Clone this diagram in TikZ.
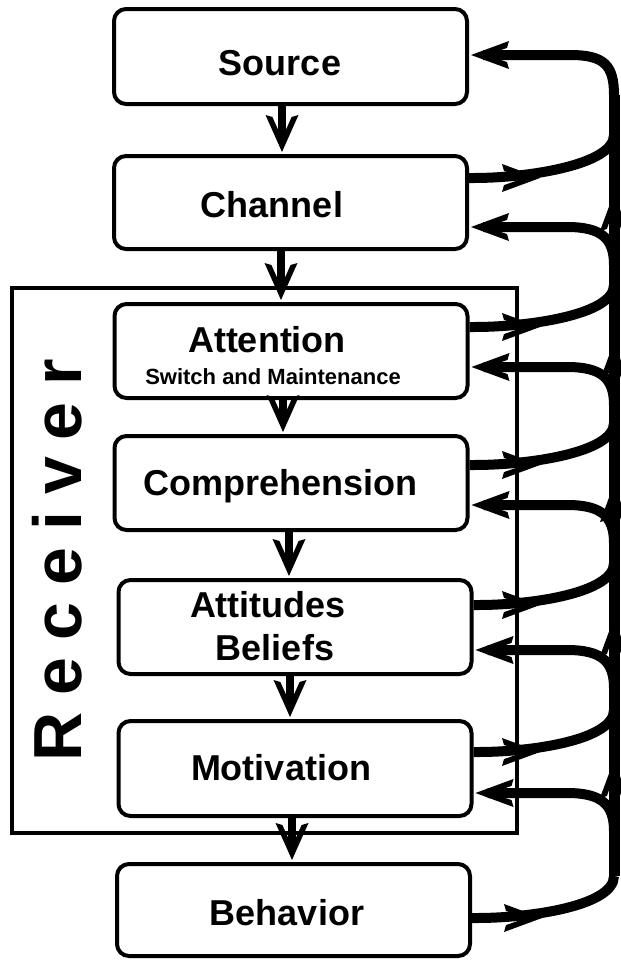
\documentclass[tikz,border=0pt]{standalone}
\usepackage{fontspec}
\setmainfont{Liberation Sans}
\begin{document}
\begin{tikzpicture}[x=1pt,y=-1pt,
  box/.style={draw, line width=4pt, fill=white, rounded corners=12pt, minimum width=353pt, minimum height=94pt, inner sep=0pt},
  lbl/.style={font=\fontsize{36}{40}\selectfont\bfseries, anchor=base, inner sep=0pt},
  sublbl/.style={font=\fontsize{22}{24}\selectfont\bfseries, anchor=base, inner sep=0pt},
  dstem/.style={line width=8.5pt, shorten >=11pt},
  fb/.style={line width=10pt},
  fbstem/.style={line width=10pt, shorten >=14pt},
  frame/.style={draw, line width=4pt, minimum width=505pt, minimum height=545pt, inner sep=0pt},
  dhead/.pic={\fill (0,0) -- (-37,-16.5) -- (-35,-9.6) -- (-13.5,0) -- (-35,9.6) -- (-37,16.5) -- cycle;},
  fhead/.pic={\fill (0,0) -- (-38,-14) -- (-36,-7.1) -- (-15.8,0) -- (-36,7.1) -- (-38,14) -- cycle;}]
\useasboundingbox (0,0) rectangle (621,961);
\fill[white] (0,0) rectangle (621,961);
% receiver frame
\node[frame] (recv) at (264.5,560.5) {};
\node[font=\fontsize{68}{72}\selectfont\bfseries, rotate=90, inner sep=0pt] (recvT) at (57,560)
  {R\kern17pt e\kern17pt c\kern17pt e\kern17pt i\kern17pt v\kern17pt e\kern17pt r};
% boxes
\node[box, minimum height=95pt] (src) at (290.5,56.5) {};
\node[box, minimum height=93pt] (chan) at (290.5,202.5) {};
\node[box] (att) at (291,351) {};
\node[box] (comp) at (291,483) {};
\node[box] (atti) at (295,627) {};
\node[box, minimum height=95pt] (mot) at (295,768.5) {};
\node[box, minimum height=92pt] (beh) at (293.5,910) {};
% labels
\node[lbl] (srcT) at (280,75) {Source};
\node[lbl] (chanT) at (272,217) {Channel};
\node[lbl] (attT) at (267,352) {Attention};
\node[sublbl] (attS) at (273,384) {Switch and Maintenance};
\node[lbl] (compT) at (280.5,495) {Comprehension};
\node[lbl] (attiT) at (268,617) {Attitudes};
\node[lbl] (attiB) at (275,660) {Beliefs};
\node[lbl] (motT) at (281,780) {Motivation};
\node[lbl] (behT) at (287,925) {Behavior};
% down arrows
\coordinate (d1) at (282,0);
\coordinate (d2) at (281,0);
\coordinate (d3) at (283,0);
\coordinate (d4) at (289,0);
\coordinate (d5) at (290,0);
\coordinate (d6) at (292,0);
\draw[dstem] (src.south -| d1) -- (chan.north -| d1);
\pic[rotate=-90] at ([yshift=2pt]chan.north -| d1) {dhead};
\draw[dstem] (chan.south -| d2) -- (att.north -| d2);
\pic[rotate=-90] at ([yshift=2pt]att.north -| d2) {dhead};
\draw[dstem] (att.south -| d3) -- (comp.north -| d3);
\pic[rotate=-90] at ([yshift=2pt]comp.north -| d3) {dhead};
\draw[dstem] (comp.south -| d4) -- (atti.north -| d4);
\pic[rotate=-90] at ([yshift=2pt]atti.north -| d4) {dhead};
\draw[dstem] (atti.south -| d5) -- (mot.north -| d5);
\pic[rotate=-90] at ([yshift=2pt]mot.north -| d5) {dhead};
\draw[dstem] (mot.south -| d6) -- (beh.north -| d6);
\pic[rotate=-90] at ([yshift=2pt]beh.north -| d6) {dhead};
% bus
\coordinate (busT) at (614,95);
\coordinate (busB) at (614,876);
\draw[line width=11pt] (busT) -- (busB);
% source input
\coordinate (srI) at (570,55);
\draw[fbstem] (busT) .. controls +(0,-30) and +(34,0) .. (srI) -- (src.east |- srI);
\pic[rotate=180] at ([xshift=2pt]src.east |- srI) {fhead};
% channel
\coordinate (chO) at (540,178); \coordinate (chJ) at (614,135);
\coordinate (chI) at (567,227); \coordinate (chD) at (614,265);
\draw[fb] (chan.east |- chO) -- ++(5,0) .. controls +(53,0) and +(0,30) .. (chJ);
\pic at (chO) {fhead};
\draw[fbstem] (chD) .. controls +(0,-27) and +(34,0) .. (chI) -- (chan.east |- chI);
\pic[rotate=180] at ([xshift=2pt]chan.east |- chI) {fhead};
% attention
\coordinate (atO) at (540,327); \coordinate (atJ) at (614,285);
\coordinate (atI) at (567,367); \coordinate (atD) at (614,405);
\draw[fb] (att.east |- atO) -- ++(5,0) .. controls +(53,0) and +(0,30) .. (atJ);
\pic at (atO) {fhead};
\draw[fbstem] (atD) .. controls +(0,-27) and +(34,0) .. (atI) -- (att.east |- atI);
\pic[rotate=180] at ([xshift=2pt]att.east |- atI) {fhead};
% comprehension
\coordinate (coO) at (540,465); \coordinate (coJ) at (614,423);
\coordinate (coI) at (567,505); \coordinate (coD) at (614,543);
\draw[fb] (comp.east |- coO) -- ++(5,0) .. controls +(53,0) and +(0,30) .. (coJ);
\pic at (coO) {fhead};
\draw[fbstem] (coD) .. controls +(0,-27) and +(34,0) .. (coI) -- (comp.east |- coI);
\pic[rotate=180] at ([xshift=2pt]comp.east |- coI) {fhead};
% attitudes
\coordinate (aiO) at (540,605); \coordinate (aiJ) at (614,563);
\coordinate (aiI) at (567,650); \coordinate (aiD) at (614,688);
\draw[fb] (atti.east |- aiO) -- ++(5,0) .. controls +(53,0) and +(0,30) .. (aiJ);
\pic at (aiO) {fhead};
\draw[fbstem] (aiD) .. controls +(0,-27) and +(34,0) .. (aiI) -- (atti.east |- aiI);
\pic[rotate=180] at ([xshift=2pt]atti.east |- aiI) {fhead};
% motivation
\coordinate (moO) at (540,752); \coordinate (moJ) at (614,710);
\coordinate (moI) at (567,793); \coordinate (moD) at (614,831);
\draw[fb] (mot.east |- moO) -- ++(5,0) .. controls +(53,0) and +(0,30) .. (moJ);
\pic at (moO) {fhead};
\draw[fbstem] (moD) .. controls +(0,-27) and +(34,0) .. (moI) -- (mot.east |- moI);
\pic[rotate=180] at ([xshift=2pt]mot.east |- moI) {fhead};
% behavior
\coordinate (beO) at (542,918);
\draw[fb] (beh.east |- beO) -- ++(5,0) .. controls +(53,0) and +(0,30) .. (busB);
\pic at (beO) {fhead};
% upward tips on bus
\coordinate (u1) at (614,193);
\coordinate (u2) at (614,342);
\coordinate (u3) at (614,484);
\coordinate (u4) at (614,618);
\coordinate (u5) at (614,760);
\pic[rotate=90] at (u1) {fhead};
\pic[rotate=90] at (u2) {fhead};
\pic[rotate=90] at (u3) {fhead};
\pic[rotate=90] at (u4) {fhead};
\pic[rotate=90] at (u5) {fhead};
\end{tikzpicture}
\end{document}
